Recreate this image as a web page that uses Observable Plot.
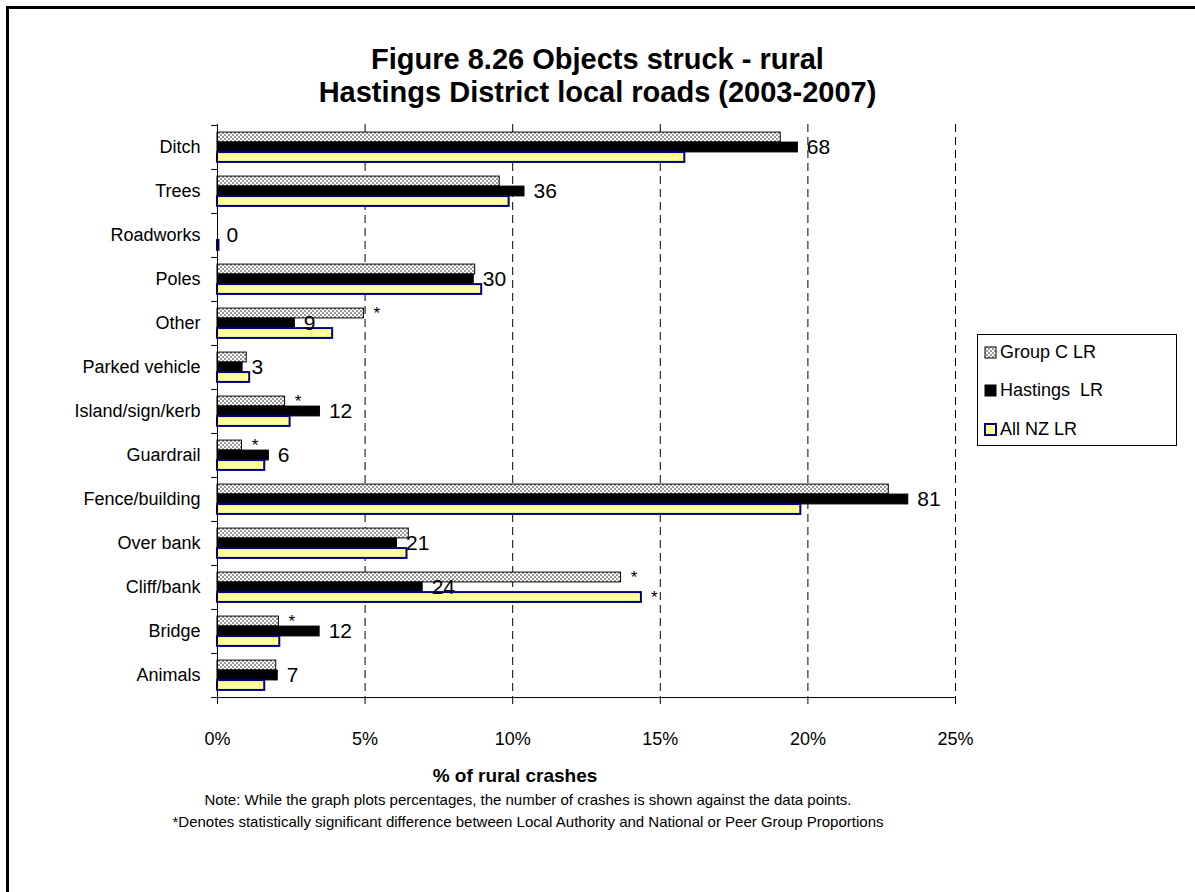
<!DOCTYPE html>
<html>
<head>
<meta charset="utf-8">
<script src="https://cdn.jsdelivr.net/npm/d3@7"></script>
<script src="https://cdn.jsdelivr.net/npm/@observablehq/plot@0.6"></script>
<style>
  body { margin: 0; background: #fff; font-family: "Liberation Sans", Arial, sans-serif; }
  #wrap { position: relative; width: 1195px; height: 892px; overflow: hidden; background: #fff; }
  #frame { position: absolute; left: 6px; top: 6px; width: 1300px; height: 1000px; border-left: 3px solid #000; border-top: 3px solid #000; box-sizing: border-box; }
  #chart { position: absolute; left: 0; top: 0; }
  #title { position: absolute; left: 0; top: 43px; width: 1195px; text-align: center; font-weight: bold; font-size: 29px; line-height: 33px; color: #000; }
  #xtitle { position: absolute; left: 315px; width: 400px; top: 765px; text-align: center; font-weight: bold; font-size: 19px; line-height: 22px; }
  .note { position: absolute; left: 28px; width: 1000px; text-align: center; font-size: 15px; line-height: 18px; color: #000; }
  #legend { position: absolute; left: 977px; top: 334px; width: 200px; height: 112px; border: 1px solid #000; box-sizing: border-box; background: #fff; }
  .li { position: absolute; left: 6px; height: 22px; display: flex; align-items: center; font-size: 18px; white-space: pre; }
  .li svg { margin-right: 3px; }
</style>
</head>
<body>
<div id="wrap">
  <div id="frame"></div>
  <div id="title">Figure 8.26 Objects struck - rural<br>Hastings District local roads (2003-2007)</div>
  <div id="chart"></div>
  <div id="xtitle">% of rural crashes</div>
  <div class="note" style="top:791px">Note: While the graph plots percentages, the number of crashes is shown against the data points.</div>
  <div class="note" style="top:813px">*Denotes statistically significant difference between Local Authority and National or Peer Group Proportions</div>
  <div id="legend"></div>
</div>
<script>
// ---- data ----
const categories = ["Ditch", "Trees", "Roadworks", "Poles", "Other", "Parked vehicle", "Island/sign/kerb",
  "Guardrail", "Fence/building", "Over bank", "Cliff/bank", "Bridge", "Animals"];
const groupC   = [19.08, 9.56, 0.00, 8.73, 4.96, 0.99, 2.29, 0.83, 22.74, 6.48, 13.67, 2.08, 1.99];
const hastings = [19.66, 10.40, 0.00, 8.68, 2.62, 0.85, 3.47, 1.74, 23.40, 6.08, 6.95, 3.46, 2.04];
const allNZ    = [15.83, 9.88, 0.05, 8.95, 3.90, 1.09, 2.46, 1.60, 19.76, 6.42, 14.36, 2.11, 1.60];
const counts   = [68, 36, 0, 30, 9, 3, 12, 6, 81, 21, 24, 12, 7];
const sigGroupC = [false, false, false, false, true, false, true, true, false, false, true, true, false];
const sigAllNZ  = [false, false, false, false, false, false, false, false, false, false, true, false, false];
const seriesNames = ["Group C LR", "Hastings  LR", "All NZ LR"];
const xTicks = [0, 5, 10, 15, 20, 25];

const rows = categories.map((c, i) => ({cat: c, gc: groupC[i], h: hastings[i], nz: allNZ[i], n: counts[i],
  sgc: sigGroupC[i], snz: sigAllNZ[i]}));

// ---- layout ----
const W = 1195, H = 892, mt = 124, mb = 194, ml = 217, mr = 240;
const bw = (H - mt - mb) / categories.length;
const barH = 10;
const top0 = (bw - 3 * barH) / 2;
const inset = k => ({insetTop: top0 + k * barH, insetBottom: bw - top0 - (k + 1) * barH});
const font = "'Liberation Sans', Arial, sans-serif";

const chart = Plot.plot({
  width: W, height: H,
  marginTop: mt, marginBottom: mb, marginLeft: ml, marginRight: mr,
  style: {fontFamily: font, fontSize: "18px", color: "#000", background: "transparent", overflow: "visible"},
  x: {domain: [0, 25]},
  y: {domain: categories, padding: 0},
  marks: [
    Plot.ruleX(xTicks.filter(d => d > 0), {stroke: "#000", strokeWidth: 1, strokeDasharray: "8,5"}),
    Plot.barX(rows, {x: "gc", y: "cat", fill: "url(#gcPat)", stroke: "#000", strokeWidth: 1, ...inset(0)}),
    Plot.barX(rows, {x: "h", y: "cat", fill: "#000", stroke: "#000", strokeWidth: 1, ...inset(1)}),
    Plot.barX(rows, {x: "nz", y: "cat", fill: "#FFFF99", stroke: "#000080", strokeWidth: 2, ...inset(2)}),
    Plot.ruleX([0], {stroke: "#000", strokeWidth: 1}),
    Plot.ruleY(categories, {y: d => d, x1: -0.2, x2: 0, dy: -bw / 2, stroke: "#000"}),
    Plot.ruleY([categories[categories.length - 1]], {y: d => d, x1: -0.2, x2: 25, dy: bw / 2, stroke: "#000"}),
    Plot.text(rows, {x: "h", y: "cat", text: d => String(d.n), dx: 9, textAnchor: "start", fontSize: 21, fill: "#000"}),
    Plot.text(rows.filter(d => d.sgc), {x: "gc", y: "cat", text: () => "*", dx: 13, dy: -barH, fontSize: 17, fill: "#000"}),
    Plot.text(rows.filter(d => d.snz), {x: "nz", y: "cat", text: () => "*", dx: 13, dy: barH, fontSize: 17, fill: "#000"}),
    Plot.axisX({ticks: xTicks, tickFormat: d => d + "%", tickSize: 6, tickPadding: 28, fontSize: 18, label: null}),
    Plot.axisY({tickSize: 0, tickPadding: 17, fontSize: 18, label: null})
  ]
});

// pattern definition for the Group C fill
const svgNS = "http://www.w3.org/2000/svg";
const svgRoot = chart.tagName.toLowerCase() === "svg" ? chart : chart.querySelector("svg");
const defs = document.createElementNS(svgNS, "defs");
defs.innerHTML = `<pattern id="gcPat" patternUnits="userSpaceOnUse" width="4" height="4">
  <rect width="4" height="4" fill="#9a9a9a"/>
  <rect x="0" y="0" width="2" height="2" fill="#ffffff"/>
  <rect x="2" y="2" width="2" height="2" fill="#ffffff"/>
</pattern>`;
svgRoot.insertBefore(defs, svgRoot.firstChild);
document.getElementById("chart").appendChild(chart);

// legend
const legend = document.getElementById("legend");
const swatches = [
  {fill: "url(#gcPat)", stroke: "#000", sw: 1},
  {fill: "#000", stroke: "#000", sw: 1},
  {fill: "#FFFF99", stroke: "#000080", sw: 2}
];
seriesNames.forEach((name, i) => {
  const item = document.createElement("div");
  item.className = "li";
  item.style.top = (6 + i * 38.5) + "px";
  const s = swatches[i];
  item.innerHTML = `<svg width="13" height="13"><rect x="1" y="1" width="11" height="11" fill="${s.fill}" stroke="${s.stroke}" stroke-width="${s.sw}"/></svg>`;
  const t = document.createElement("span");
  t.textContent = name;
  item.appendChild(t);
  legend.appendChild(item);
});
</script>
</body>
</html>
